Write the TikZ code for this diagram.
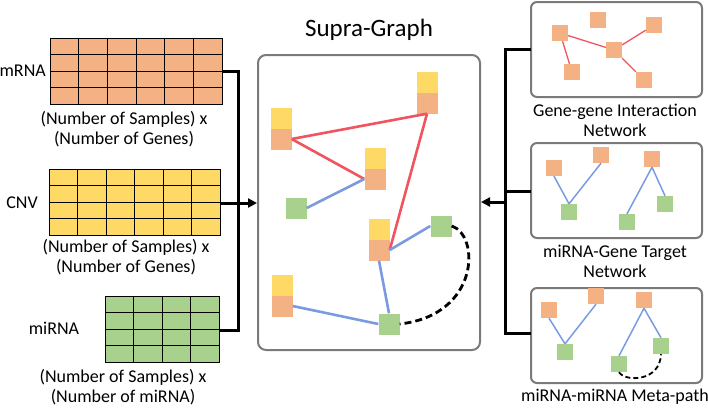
\documentclass[tikz,border=0pt]{standalone}
\usepackage{fontspec}
\setmainfont{Carlito}
\usetikzlibrary{arrows.meta}
\definecolor{og}{HTML}{F4B183}
\definecolor{yl}{HTML}{FFD966}
\definecolor{gr}{HTML}{A9D18E}
\definecolor{rd}{HTML}{F0545F}
\definecolor{bl}{HTML}{7B9BE0}
\definecolor{bx}{HTML}{7A7A7A}
\begin{document}
\begin{tikzpicture}[x=1pt,y=-1pt,
 lbl/.style={font=\fontsize{18}{20}\selectfont,align=center,inner sep=0},
 box/.style={draw=bx,line width=2pt,rounded corners=6pt},
 conn/.style={line width=3pt},
 sq/.style={minimum size=21pt,inner sep=0,draw=none,fill=#1},
 ssq/.style={minimum size=16pt,inner sep=0,draw=none,fill=#1},
 re/.style={rd,line width=2.6pt},
 be/.style={bl,line width=2.6pt},
 ret/.style={rd,line width=1.3pt},
 bet/.style={bl,line width=1.5pt},
 dsh/.style={black,line width=2.8pt,dash pattern=on 7pt off 4pt}]
\useasboundingbox (0,0) rectangle (708,408);
% grids
\fill[og] (50,38) rectangle (222,104);
\draw (50,38) rectangle (222,104);
\foreach \i in {1,...,5}{\draw (50+\i*172/6,38) -- (50+\i*172/6,104);}
\foreach \j in {1,2,3}{\draw (50,38+\j*16.5) -- (222,38+\j*16.5);}
\fill[yl] (49,169) rectangle (220,235);
\draw (49,169) rectangle (220,235);
\foreach \i in {1,...,5}{\draw (49+\i*171/6,169) -- (49+\i*171/6,235);}
\foreach \j in {1,2,3}{\draw (49,169+\j*16.5) -- (220,169+\j*16.5);}
\fill[gr] (105,296) rectangle (219,362);
\draw (105,296) rectangle (219,362);
\foreach \i in {1,2,3}{\draw (105+\i*28.5,296) -- (105+\i*28.5,362);}
\foreach \j in {1,2,3}{\draw (105,296+\j*16.5) -- (219,296+\j*16.5);}
\node[lbl,anchor=east] (lm) at (46,71) {mRNA};
\node[lbl,anchor=east] (lc) at (38,203) {CNV};
\node[lbl] (lmi) at (54,328) {miRNA};
\node[lbl] (tm) at (124,129) {(Number of Samples) x\\(Number of Genes)};
\node[lbl] (tc) at (126,257) {(Number of Samples) x\\(Number of Genes)};
\node[lbl] (tmi) at (123,387) {(Number of Samples) x\\(Number of miRNA)};
\coordinate (gm) at (222,71); \coordinate (gc) at (220,203); \coordinate (gmi) at (219,330);
% supra
\node[font=\fontsize{25}{28}\selectfont] (title) at (369,30) {Supra-Graph};
\draw[box,rounded corners=8pt] (258,55) rectangle (480,350);
\coordinate (sl) at (257,203); \coordinate (sr) at (481,202);
\draw[conn] (gm) -- (238,71) -- (238,330) -- (gmi);
\draw[conn,-{Triangle[length=9pt,width=9pt]}] (gc) -- (sl);
% supra nodes
\foreach \n/\x/\y in {A/281/118,B/427/82,C/375/158,D/379/229,E/282/285}{
 \node[sq=yl] (\n y) at (\x,\y) {};
 \node[sq=og] (\n) at (\x,\y+21) {};}
\node[sq=gr] (G1) at (296,208) {};
\node[sq=gr] (G2) at (441,226) {};
\node[sq=gr] (G3) at (389,324) {};
\draw[re] (A.east) -- (B.south);
\draw[re] (A.east) -- (C.west);
\draw[re] (B.south) -- (D.east);
\draw[be] (G1.east) -- (C.west);
\draw[be] (D.east) -- (G2.west);
\draw[be] (D.south) -- (G3.north);
\draw[be] (E.east) -- (G3.west);
\draw[dsh] (G2.east) .. controls (480,235) and (480,315) .. (G3.east);
% right boxes
\draw[box] (531,2) rectangle (702,97);
\draw[box] (531,143) rectangle (702,238);
\draw[box] (531,288) rectangle (702,383);
\node[lbl] (t1) at (615,120) {Gene-gene Interaction\\Network};
\node[lbl] (t2) at (615,261) {miRNA-Gene Target\\Network};
\node[lbl] (t3) at (615,397) {miRNA-miRNA Meta-path};
\draw[conn] (531,49) -- (505,49) -- (505,333) -- (531,333);
\draw[conn] (531,191) -- (505,191);
\draw[conn,-{Triangle[length=9pt,width=9pt]}] (505,202) -- (sr);
% box1
\foreach \n/\x/\y in {a/560/33,b/598/20,c/654/25,d/614/50,e/572/72,f/644/80}{\node[ssq=og] (p\n) at (\x,\y) {};}
\draw[ret] (pa) -- (pd); \draw[ret] (pd) -- (pc); \draw[ret] (pd) -- (pf); \draw[ret] (pa) -- (pe);
% box2
\foreach \n/\x/\y in {a/554/168,b/601/155,c/652/159}{\node[ssq=og] (q\n) at (\x,\y) {};}
\foreach \n/\x/\y in {d/569/212,e/627/222,f/665/204}{\node[ssq=gr] (q\n) at (\x,\y) {};}
\draw[bet] (qa.south) -- (qd.north); \draw[bet] (qb.south) -- (qd.north);
\draw[bet] (qc.south) -- (qe.north); \draw[bet] (qc.south) -- (qf.north);
% box3
\foreach \n/\x/\y in {a/549/310,b/596/296,c/644/300}{\node[ssq=og] (r\n) at (\x,\y) {};}
\foreach \n/\x/\y in {d/565/352,e/619/364,f/661/346}{\node[ssq=gr] (r\n) at (\x,\y) {};}
\draw[bet] (ra.south) -- (rd.north); \draw[bet] (rb.south) -- (rd.north);
\draw[bet] (rc.south) -- (re.north); \draw[bet] (rc.south) -- (rf.north);
\draw[black,line width=1.8pt,dash pattern=on 5pt off 3pt] (re.south) .. controls (625,382) and (660,382) .. (rf.south);
\end{tikzpicture}
\end{document}
